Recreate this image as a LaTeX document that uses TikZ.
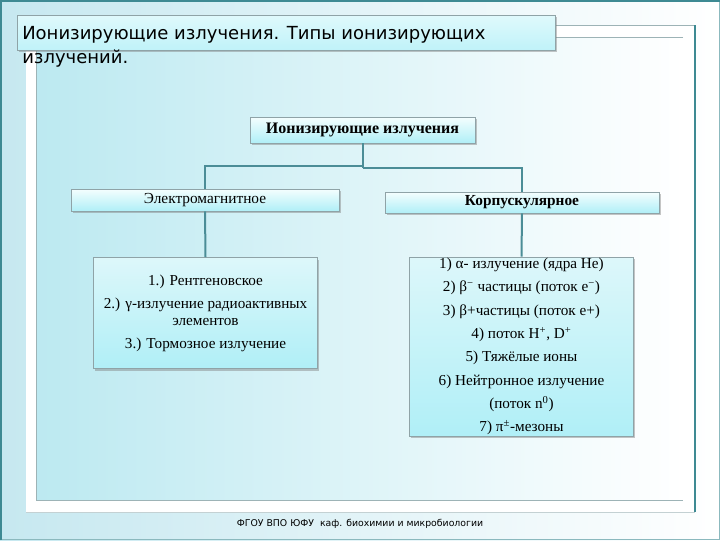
\documentclass[tikz,border=0pt]{standalone}
\usepackage{fontspec}
\setmainfont{Liberation Serif}
\newfontfamily\slidefont{DejaVu Sans}
\usetikzlibrary{shadows}
\definecolor{slideteal}{HTML}{3E8A93}
\definecolor{paleblue}{HTML}{C6E8F0}
\definecolor{boxtop}{HTML}{F4FEFE}
\definecolor{boxbottom}{HTML}{B0EFF7}
\definecolor{listtop}{HTML}{DDF7FA}
\definecolor{boxline}{HTML}{8FA3A7}
\definecolor{linkteal}{HTML}{4B8D97}
\definecolor{framegray}{HTML}{9DB3B6}
\tikzset{
  headbox/.style={draw=boxline, line width=0.5pt, top color=boxtop, bottom color=boxbottom,
    drop shadow={shadow xshift=1.2pt, shadow yshift=-1.5pt, fill=black!50, opacity=0.45},
    inner sep=0pt, font=\fontsize{11.5}{13}\selectfont},
  listbox/.style={headbox, top color=listtop, align=center, font=\fontsize{11.4}{12.75}\selectfont},
  link/.style={draw=linkteal, line width=1.5pt},
  every node/.append style={text=black}
}

\begin{document}
\begin{tikzpicture}[x=0.75pt, y=-0.75pt]
\useasboundingbox (0,0) rectangle (720,540);
% slide background and frames
\fill[left color=paleblue, right color=white] (0,0) rectangle (720,540);
\draw[slideteal!60, line width=0.75pt] (0.5,0.5) rectangle (719.5,539.5);
\draw[slideteal, line width=1.5pt] (1,540) -- (1,1) -- (720,1);
\fill[white] (26,25) rectangle (695,512);
\draw[framegray!60, line width=0.6pt] (26,512) -- (695,512);
\draw[framegray, line width=0.6pt] (26,25) -- (695,25);
\draw[slideteal, line width=1.2pt] (695,25) -- (695,512);
\fill[left color=paleblue!95!cyan, right color=white] (36,37) rectangle (683,500);
\draw[framegray, line width=0.6pt] (683,37) -- (36,37) -- (36,500) -- (683,500);

% title
\node[draw=boxline, line width=0.5pt, top color=boxtop!70!boxbottom, bottom color=boxbottom!80!white,
  drop shadow={shadow xshift=1.2pt, shadow yshift=-1.5pt, fill=black!50, opacity=0.45},
  minimum width=403.5pt, minimum height=26.25pt, inner sep=0pt] (titlebar) at (286,32.5) {};
\node[font=\slidefont\fontsize{13.5}{18}\selectfont, anchor=north west, align=left, inner sep=0pt]
  (titletext) at (22,26) {Ионизирующие излучения. Типы ионизирующих\\излучений.};

% tree
\node[headbox, font=\bfseries\fontsize{12}{14}\selectfont, minimum width=168.75pt, minimum height=19.5pt]
  (root) at (362.5,130) {Ионизирующие излучения};
\node[headbox, minimum width=201pt, minimum height=16.5pt] (electro) at (205,200) {Электромагнитное};
\node[headbox, font=\bfseries\fontsize{11.5}{13}\selectfont, minimum width=205.5pt, minimum height=15.75pt]
  (corpus) at (522,202.5) {Корпускулярное};
\node[listbox, minimum width=168pt, minimum height=83.25pt] (electrolist) at (205.5,313)
  {1.) Рентгеновское\\[4.5pt]
   2.) γ-излучение радиоактивных\\элементов\\[4.5pt]
   3.) Тормозное излучение};
\node[listbox, font=\fontsize{11.4}{17.5}\selectfont, minimum width=168pt, minimum height=134.25pt]
  (corpuslist) at (521.5,346.5)
  {1) α- излучение (ядра He)\\
   2) β\textsuperscript{−} частицы (поток e\textsuperscript{−})\\
   3) β+частицы (поток e+)\\
   4) поток H\textsuperscript{+}, D\textsuperscript{+}\\
   5) Тяжёлые ионы\\
   6) Нейтронное излучение\\
   (поток n\textsuperscript{0})\\
   7) π\textsuperscript{±}-мезоны};
\coordinate (forkleft) at (362.5,166);
\coordinate (forkright) at (362.5,168);
\draw[link] (root.south) -- (forkright);
\draw[link] (electro.north) |- (forkleft);
\draw[link] (forkright) -| (corpus.north);
\draw[link] (electro.south) -- (electrolist.north);
\draw[link] (corpus.south) -- (corpuslist.north);

% footer
\node[font=\slidefont\fontsize{7}{9}\selectfont] (footer) at (360,524)
  {ФГОУ ВПО ЮФУ\ \ каф. биохимии и микробиологии};
\end{tikzpicture}
\end{document}
